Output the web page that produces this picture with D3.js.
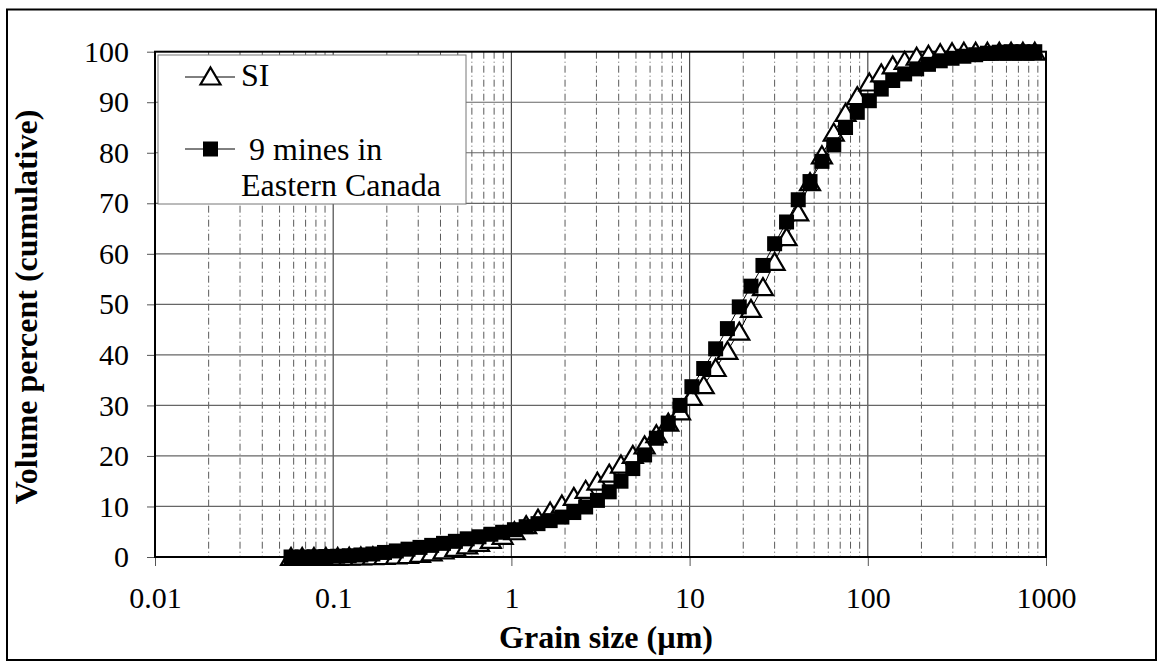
<!DOCTYPE html>
<html>
<head>
<meta charset="utf-8">
<script src="https://cdn.jsdelivr.net/npm/d3@7/dist/d3.min.js"></script>
<style>
  html, body { margin: 0; padding: 0; background: #fff; }
  svg { display: block; }
  text { font-family: "Liberation Serif", "Times New Roman", serif; fill: #000; }
</style>
</head>
<body>
<svg id="chart" width="1158" height="662"></svg>
<script>
// Particle size classes (µm)
const sizes = [
  0.058, 0.067, 0.078, 0.091, 0.106, 0.123, 0.143, 0.167, 0.194, 0.226,
  0.263, 0.307, 0.357, 0.416, 0.485, 0.565, 0.658, 0.767, 0.893, 1.04,
  1.21, 1.41, 1.65, 1.92, 2.24, 2.61, 3.04, 3.54, 4.12, 4.80,
  5.59, 6.51, 7.59, 8.84, 10.3, 12.0, 14.0, 16.3, 19.0, 22.1,
  25.8, 30.0, 35.0, 40.7, 47.4, 55.3, 64.4, 75.0, 87.3, 102,
  119, 138, 161, 188, 219, 255, 297, 346, 403, 469,
  547, 637, 742, 865
];

// Cumulative volume percent, SI tailings
const siValues = [
  0, 0, 0, 0, 0, 0.05, 0.1, 0.15, 0.2, 0.3,
  0.4, 0.6, 0.9, 1.3, 1.8, 2.3, 2.8, 3.4, 4.2, 5.1,
  6.3, 7.6, 9.0, 10.4, 11.9, 13.3, 14.9, 16.5, 18.3, 20.2,
  22.1, 24.3, 26.6, 28.8, 31.7, 34.0, 37.4, 40.8, 44.6, 49.1,
  53.4, 58.4, 63.3, 68.2, 74.2, 79.5, 84.0, 87.9, 91.2, 93.9,
  95.7, 97.3, 98.2, 99.0, 99.4, 99.7, 99.9, 100, 100, 100,
  100, 100, 100, 100
];

// Cumulative volume percent, average of 9 mines in Eastern Canada
const canadaValues = [
  0, 0, 0.05, 0.1, 0.15, 0.25, 0.4, 0.6, 0.9, 1.2,
  1.55, 1.9, 2.3, 2.7, 3.1, 3.6, 4.0, 4.5, 4.9, 5.4,
  6.0, 6.6, 7.2, 7.9, 8.8, 9.9, 11.2, 12.9, 15.0, 17.5,
  20.2, 23.5, 26.5, 30.0, 33.7, 37.3, 41.2, 45.2, 49.5, 53.6,
  57.7, 62.0, 66.3, 70.7, 74.3, 78.3, 81.6, 85.0, 88.0, 90.3,
  92.6, 94.3, 95.6, 96.6, 97.5, 98.2, 98.7, 99.1, 99.4, 99.7,
  99.9, 100, 100, 100
];

const xTickValues = [0.01, 0.1, 1, 10, 100, 1000];
const xTickLabels = ["0.01", "0.1", "1", "10", "100", "1000"];
const yTickValues = [0, 10, 20, 30, 40, 50, 60, 70, 80, 90, 100];

const seriesNames = ["SI", "9 mines in", "Eastern Canada"];

const serif = '"Liberation Serif", "Times New Roman", serif';
const svg = d3.select("#chart");

const plot = { left: 155, right: 1046, top: 51.7, bottom: 557 };

const x = d3.scaleLog().domain([0.01, 1000]).range([plot.left, plot.right]);
const y = d3.scaleLinear().domain([0, 100]).range([plot.bottom, plot.top]);

// outer chart frame
svg.append("rect")
  .attr("x", 7).attr("y", 9.5)
  .attr("width", 1149).attr("height", 650.5)
  .attr("fill", "#fff").attr("stroke", "#000").attr("stroke-width", 2);

// vertical gridlines: minor dash-dot, decades solid
const allXTicks = x.ticks();
const isDecade = v => Math.abs(Math.log10(v) - Math.round(Math.log10(v))) < 1e-9;
const grid = svg.append("g");
grid.selectAll("line.minor")
  .data(allXTicks.filter(v => !isDecade(v)))
  .join("line")
  .attr("class", "minor")
  .attr("x1", d => x(d)).attr("x2", d => x(d))
  .attr("y1", plot.top).attr("y2", plot.bottom)
  .attr("stroke", "#5a5a5a").attr("stroke-width", 1)
  .attr("stroke-dasharray", "7,3,1,3");
grid.selectAll("line.major")
  .data(xTickValues.slice(1, -1))
  .join("line")
  .attr("class", "major")
  .attr("x1", d => x(d)).attr("x2", d => x(d))
  .attr("y1", plot.top).attr("y2", plot.bottom)
  .attr("stroke", "#4a4a4a").attr("stroke-width", 1.2);
grid.selectAll("line.h")
  .data(yTickValues.slice(1, -1))
  .join("line")
  .attr("class", "h")
  .attr("x1", plot.left).attr("x2", plot.right)
  .attr("y1", d => y(d)).attr("y2", d => y(d))
  .attr("stroke", "#666").attr("stroke-width", 1.2);

// axes
const yAxis = svg.append("g")
  .attr("transform", `translate(${plot.left},0)`)
  .call(d3.axisLeft(y).tickValues(yTickValues).tickSize(8).tickPadding(18));
const xAxis = svg.append("g")
  .attr("transform", `translate(0,${plot.bottom})`)
  .call(d3.axisBottom(x).tickValues(xTickValues)
        .tickFormat((d, i) => xTickLabels[i]).tickSize(9).tickPadding(21));
[yAxis, xAxis].forEach(g => {
  g.attr("font-family", serif).attr("font-size", 30);
  g.select(".domain").remove();
  g.selectAll(".tick line").attr("stroke", "#555");
  g.selectAll(".tick text")
    .attr("fill", "#000")
    .attr("font-family", serif)
    .style("font-family", serif)
    .style("font-size", "30px");
});

// plot frame
svg.append("rect")
  .attr("x", plot.left).attr("y", plot.top)
  .attr("width", plot.right - plot.left).attr("height", plot.bottom - plot.top)
  .attr("fill", "none").attr("stroke", "#000").attr("stroke-width", 2);

// axis titles
svg.append("text")
  .attr("transform", "translate(37,307) rotate(-90)")
  .attr("text-anchor", "middle")
  .style("font-size", "32px").style("font-weight", "bold")
  .text("Volume percent (cumulative)");
svg.append("text")
  .attr("x", 606).attr("y", 648)
  .attr("text-anchor", "middle")
  .style("font-size", "32px").style("font-weight", "bold")
  .text("Grain size (µm)");

// legend
const legend = svg.append("g");
legend.append("rect")
  .attr("x", 158).attr("y", 55).attr("width", 308).attr("height", 149)
  .attr("fill", "#fff").attr("stroke", "#777").attr("stroke-width", 1);

const trianglePath = "M0,-9L10,8L-10,8Z";
const sq = 15;

function drawTriangle(g, cx, cy) {
  g.append("path").attr("d", trianglePath)
    .attr("transform", `translate(${cx},${cy})`)
    .attr("fill", "#fff").attr("stroke", "#000").attr("stroke-width", 2.2);
}
function drawSquare(g, cx, cy) {
  g.append("rect").attr("x", cx - sq / 2).attr("y", cy - sq / 2)
    .attr("width", sq).attr("height", sq).attr("fill", "#000");
}

legend.append("line").attr("x1", 185).attr("x2", 235).attr("y1", 77).attr("y2", 77)
  .attr("stroke", "#000").attr("stroke-width", 1);
drawTriangle(legend, 210.5, 76.5);
legend.append("text").attr("x", 241).attr("y", 86).style("font-size", "32px").text(seriesNames[0]);

legend.append("line").attr("x1", 185).attr("x2", 235).attr("y1", 149).attr("y2", 149)
  .attr("stroke", "#000").attr("stroke-width", 1);
drawSquare(legend, 210.5, 149);
legend.append("text").attr("x", 249).attr("y", 160).style("font-size", "32px").text(seriesNames[1]);
legend.append("text").attr("x", 241).attr("y", 196).style("font-size", "32px").text(seriesNames[2]);

// series
const siData = sizes.map((s, i) => ({ s, v: siValues[i] }));
const caData = sizes.map((s, i) => ({ s, v: canadaValues[i] }));
const line = d3.line().x(d => x(d.s)).y(d => y(d.v));

const siG = svg.append("g");
siG.append("path").datum(siData).attr("d", line)
  .attr("fill", "none").attr("stroke", "#000").attr("stroke-width", 1);
siG.selectAll("path.m").data(siData).join("path")
  .attr("class", "m")
  .attr("d", trianglePath)
  .attr("transform", d => `translate(${x(d.s)},${y(d.v)})`)
  .attr("fill", "#fff").attr("stroke", "#000").attr("stroke-width", 2.2);

const caG = svg.append("g");
caG.append("path").datum(caData).attr("d", line)
  .attr("fill", "none").attr("stroke", "#000").attr("stroke-width", 1);
caG.selectAll("rect.m").data(caData).join("rect")
  .attr("class", "m")
  .attr("x", d => x(d.s) - sq / 2).attr("y", d => y(d.v) - sq / 2)
  .attr("width", sq).attr("height", sq)
  .attr("fill", "#000");
</script>
</body>
</html>
